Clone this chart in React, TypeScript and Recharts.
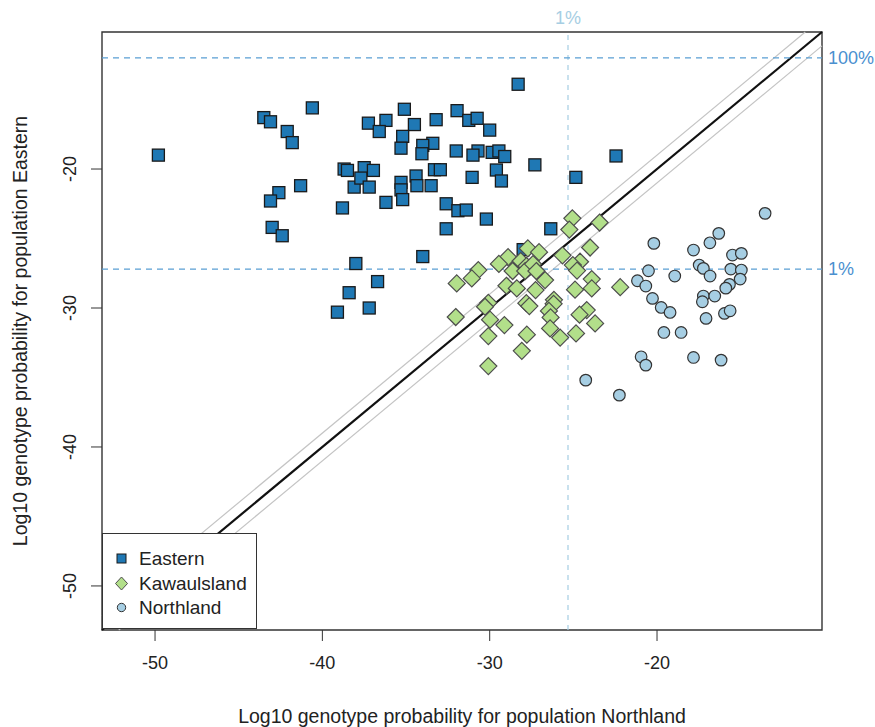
import React from "react";
import {
  ScatterChart,
  Scatter,
  XAxis,
  YAxis,
  ReferenceLine,
  ReferenceArea,
  Legend,
  Label,
} from "recharts";

const FONT = "'Liberation Sans', Arial, sans-serif";

const AXIS_MIN = -53.17;
const AXIS_MAX = -10.14;
const TICKS = [-50, -40, -30, -20];

const SERIES = ["Eastern", "Kawaulsland", "Northland"];
const FILLS = ["#1f78b4", "#b2df8a", "#a6cee3"];
const STROKES = ["#1a1a1a", "#4d4d4d", "#333333"];

// Eastern (squares)
const easternX = [
  -49.8, -43.5, -43.1, -42.1, -41.8, -40.6, -38.7, -38.5, -38.1, -41.3, -42.6, -43.1,
  -38.8, -43.0, -42.4, -38.0, -38.4, -39.1, -36.7, -37.2, -34.0, -28.3, -35.1, -31.95,
  -31.25, -30.75, -33.2, -37.25, -36.2, -34.5, -36.6, -30.0, -35.2, -33.4, -34.0, -34.05,
  -35.3, -32.0, -30.7, -31.0, -29.85, -29.45, -29.1, -27.3, -22.45, -37.5, -36.95, -37.7,
  -37.2, -35.3, -35.3, -34.4, -34.35, -33.5, -33.3, -32.95, -31.05, -29.6, -29.3, -24.85,
  -36.2, -35.2, -32.6, -31.9, -31.4, -30.2, -32.6, -26.35, -28.0,
];
const easternY = [
  -19.0, -16.3, -16.6, -17.3, -18.1, -15.6, -20.0, -20.1, -21.3, -21.2, -21.7, -22.3,
  -22.8, -24.2, -24.8, -26.8, -28.9, -30.3, -28.1, -30.0, -26.3, -13.9, -15.7, -15.8,
  -16.5, -16.35, -16.45, -16.7, -16.5, -16.8, -17.3, -17.2, -17.65, -18.15, -18.3, -18.9,
  -18.5, -18.7, -18.7, -19.0, -18.8, -18.7, -19.1, -19.7, -19.06, -19.9, -20.1, -20.65,
  -21.3, -20.96, -21.5, -20.5, -21.2, -21.2, -20.05, -20.05, -20.6, -20.07, -20.86, -20.6,
  -22.4, -22.2, -22.5, -23.0, -22.95, -23.6, -24.3, -24.3, -25.8,
];

// Kawaulsland (diamonds)
const kawauX = [
  -25.06, -25.24, -23.43, -24.0, -25.65, -27.72, -27.05, -28.9, -29.45, -28.15, -27.8,
  -30.68, -31.07, -31.97, -28.63, -27.88, -27.41, -29.0, -28.38, -27.26, -30.08, -30.28,
  -27.81, -27.63, -32.03, -29.98, -29.12, -30.08, -27.78, -28.08, -30.08, -24.6, -25.03,
  -24.78, -26.69, -23.9, -23.9, -24.9, -22.2, -26.16, -26.18, -26.46, -24.2, -24.63,
  -26.36, -23.7, -26.39, -24.84, -25.79, -27.21,
];
const kawauY = [
  -23.55, -24.36, -23.85, -25.65, -26.21, -25.71, -25.98, -26.34, -26.83, -26.62, -26.98,
  -27.27, -27.87, -28.23, -27.34, -27.34, -26.84, -28.4, -28.59, -28.71, -29.63, -29.91,
  -29.65, -29.86, -30.65, -30.84, -31.23, -32.02, -31.92, -33.08, -34.18, -26.67, -26.91,
  -27.31, -27.99, -27.92, -28.59, -28.68, -28.5, -29.41, -29.7, -30.21, -30.15, -30.48,
  -30.68, -31.11, -31.47, -31.83, -32.13, -27.34,
];

// Northland (circles)
const northX = [
  -13.54, -16.31, -16.84, -20.19, -17.82, -15.49, -14.96, -17.48, -17.23, -15.59, -14.96,
  -20.51, -18.94, -16.83, -15.03, -21.17, -20.67, -15.67, -15.89, -17.23, -17.29, -16.55,
  -20.27, -19.75, -19.22, -15.97, -15.63, -17.07, -19.59, -18.56, -20.95, -20.67, -17.82,
  -16.17, -24.26, -22.25,
];
const northY = [
  -23.19, -24.63, -25.31, -25.35, -25.83, -26.19, -26.07, -26.91, -27.15, -27.2, -27.27,
  -27.32, -27.7, -27.7, -27.92, -28.04, -28.42, -28.3, -28.57, -29.14, -29.55, -29.14,
  -29.31, -29.96, -30.32, -30.39, -30.2, -30.75, -31.76, -31.76, -33.51, -34.11, -33.56,
  -33.75, -35.19, -36.27,
];

// thresholds
const LINE_100 = -12.0;
const LINE_1_Y = -27.2;
const LINE_1_X = -25.32;
const BAND = 1;

const zip = (xs: number[], ys: number[]) => xs.map((x, i) => ({ x, y: ys[i] }));
const eastern = zip(easternX, easternY);
const kawau = zip(kawauX, kawauY);
const north = zip(northX, northY);

const Square = ({ cx, cy }: any) => (
  <rect x={cx - 6} y={cy - 6} width={12} height={12} fill={FILLS[0]} stroke={STROKES[0]} strokeWidth={1.3} />
);
const Diamond = ({ cx, cy }: any) => (
  <polygon
    points={`${cx},${cy - 8.5} ${cx + 8.5},${cy} ${cx},${cy + 8.5} ${cx - 8.5},${cy}`}
    fill={FILLS[1]}
    stroke={STROKES[1]}
    strokeWidth={1.2}
  />
);
const Circle = ({ cx, cy }: any) => (
  <circle cx={cx} cy={cy} r={5.8} fill={FILLS[2]} stroke={STROKES[2]} strokeWidth={1.2} />
);

const XTick = ({ x, y, payload }: any) => (
  <text x={x} y={y + 20} textAnchor="middle" dominantBaseline="central" fontSize={18} fill="#222" fontFamily={FONT}>
    {payload.value}
  </text>
);
const YTick = ({ x, y, payload }: any) => (
  <text
    x={x - 19}
    y={y}
    textAnchor="middle"
    dominantBaseline="central"
    fontSize={18}
    fill="#222"
    fontFamily={FONT}
    transform={`rotate(-90, ${x - 19}, ${y})`}
  >
    {payload.value}
  </text>
);

const legendMarker = (i: number) => {
  if (i === 0) return <rect x={14} y={8} width={9} height={9} fill={FILLS[0]} stroke={STROKES[0]} />;
  if (i === 1) return <polygon points="18.5,6 24.5,12.5 18.5,19 12.5,12.5" fill={FILLS[1]} stroke={STROKES[1]} />;
  return <circle cx={18.5} cy={12.5} r={4.2} fill={FILLS[2]} stroke={STROKES[2]} />;
};

const LegendBox = () => (
  <div
    style={{
      width: 155,
      height: 96,
      boxSizing: "border-box",
      border: "1.3px solid #333",
      background: "#fff",
      position: "relative",
      fontFamily: FONT,
      fontSize: 19,
      color: "#222",
    }}
  >
    {SERIES.map((name, i) => (
      <div key={name} style={{ position: "absolute", left: 0, top: 12 + i * 24.5, height: 25, display: "flex", alignItems: "center" }}>
        <svg width={36} height={25} style={{ display: "block" }}>
          {legendMarker(i)}
        </svg>
        <span style={{ lineHeight: "25px" }}>{name}</span>
      </div>
    ))}
  </div>
);

export default function App() {
  return (
    <div style={{ position: "absolute", left: 0, top: 0, background: "#fff" }}>
      <ScatterChart width={875} height={727} margin={{ top: 32, right: 53, bottom: 0, left: 0 }}>
        <XAxis
          type="number"
          dataKey="x"
          domain={[AXIS_MIN, AXIS_MAX]}
          ticks={TICKS}
          allowDataOverflow
          height={97}
          tickSize={11}
          axisLine={false}
          tickLine={{ stroke: "#333" }}
          tick={<XTick />}
        >
          <Label
            content={({ viewBox }: any) => (
              <text
                x={viewBox.x + viewBox.width / 2}
                y={viewBox.y + 86}
                textAnchor="middle"
                dominantBaseline="central"
                fontSize={19.5}
                fill="#222"
                fontFamily={FONT}
              >
                Log10 genotype probability for population Northland
              </text>
            )}
          />
        </XAxis>
        <YAxis
          type="number"
          dataKey="y"
          domain={[AXIS_MIN, AXIS_MAX]}
          ticks={TICKS}
          allowDataOverflow
          width={102}
          tickSize={11}
          axisLine={false}
          tickLine={{ stroke: "#333" }}
          tick={<YTick />}
        >
          <Label
            content={({ viewBox }: any) => {
              const cx = 20;
              const cy = viewBox.y + viewBox.height / 2;
              return (
                <text
                  x={cx}
                  y={cy}
                  textAnchor="middle"
                  dominantBaseline="central"
                  fontSize={19.5}
                  fill="#222"
                  fontFamily={FONT}
                  transform={`rotate(-90, ${cx}, ${cy})`}
                >
                  Log10 genotype probability for population Eastern
                </text>
              );
            }}
          />
        </YAxis>

        <Scatter name={SERIES[0]} data={eastern} shape={<Square />} isAnimationActive={false} />
        <Scatter name={SERIES[1]} data={kawau} shape={<Diamond />} isAnimationActive={false} />
        <Scatter name={SERIES[2]} data={north} shape={<Circle />} isAnimationActive={false} />

        <ReferenceLine
          segment={[{ x: AXIS_MIN, y: AXIS_MIN + BAND }, { x: AXIS_MAX - BAND, y: AXIS_MAX }]}
          stroke="#c4c4c4"
          strokeWidth={1.2}
        />
        <ReferenceLine
          segment={[{ x: AXIS_MIN + BAND, y: AXIS_MIN }, { x: AXIS_MAX, y: AXIS_MAX - BAND }]}
          stroke="#c4c4c4"
          strokeWidth={1.2}
        />
        <ReferenceLine
          segment={[{ x: AXIS_MIN, y: AXIS_MIN }, { x: AXIS_MAX, y: AXIS_MAX }]}
          stroke="#111"
          strokeWidth={2.2}
        />
        <ReferenceLine
          x={LINE_1_X}
          stroke="#a6cee3"
          strokeWidth={1.2}
          strokeDasharray="5 5"
          label={{ value: "1%", position: "top", offset: 8, fill: "#a6cee3", fontSize: 18, fontFamily: FONT }}
        />
        <ReferenceLine
          y={LINE_100}
          stroke="#5a9fd4"
          strokeWidth={1.4}
          strokeDasharray="6 5"
          label={{ value: "100%", position: "right", offset: 6, fill: "#4a90cf", fontSize: 18, fontFamily: FONT }}
        />
        <ReferenceLine
          y={LINE_1_Y}
          stroke="#5a9fd4"
          strokeWidth={1.4}
          strokeDasharray="6 5"
          label={{ value: "1%", position: "right", offset: 6, fill: "#4a90cf", fontSize: 18, fontFamily: FONT }}
        />
        <ReferenceArea
          x1={AXIS_MIN}
          x2={AXIS_MAX}
          y1={AXIS_MIN}
          y2={AXIS_MAX}
          fill="none"
          fillOpacity={0}
          stroke="#333"
          strokeWidth={1.4}
        />
        <Legend
          layout="vertical"
          align="center"
          verticalAlign="middle"
          wrapperStyle={{ left: 102, top: 533, width: 155, height: 96 }}
          content={<LegendBox />}
        />
      </ScatterChart>
    </div>
  );
}
